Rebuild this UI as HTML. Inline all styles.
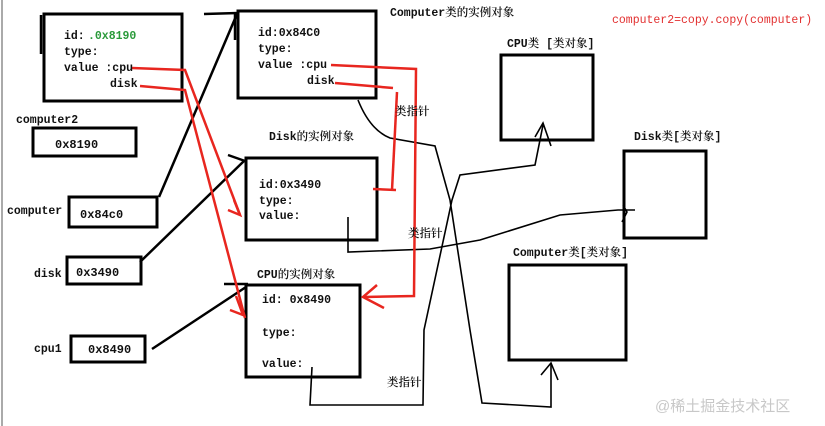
<!DOCTYPE html>
<html><head><meta charset="utf-8"><style>
body{margin:0;background:#fff;}
svg{display:block}
text{font-family:"Liberation Mono","Noto Serif CJK SC",monospace;font-size:11.5px;fill:#111;font-weight:600}
</style></head><body>
<svg width="825" height="426" viewBox="0 0 825 426" xmlns="http://www.w3.org/2000/svg">
<line x1="2" y1="0" x2="2" y2="426" stroke="#aaa" stroke-width="2"/>
<g fill="none" stroke="#000" stroke-width="3">
<rect x="44" y="14" width="138" height="87"/>
<rect x="238" y="11" width="138" height="87"/>
<rect x="33" y="128" width="103" height="28"/>
<rect x="69" y="197" width="88" height="30"/>
<rect x="67" y="257" width="74" height="27"/>
<rect x="71" y="336" width="74" height="26"/>
<rect x="246" y="158" width="131" height="82"/>
<rect x="246" y="285" width="114" height="92"/>
<rect x="501" y="55" width="92" height="85"/>
<rect x="624" y="151" width="82" height="87"/>
<rect x="509" y="265" width="117" height="95"/>
</g>
<g fill="none" stroke="#000" stroke-width="2.5">
<line x1="41" y1="15" x2="41" y2="54"/>
<line x1="204" y1="14" x2="238" y2="13"/>
<line x1="159" y1="197" x2="237" y2="14"/>
<line x1="235" y1="14" x2="235" y2="40"/>
<line x1="140" y1="262" x2="244" y2="161"/>
<line x1="228" y1="155" x2="245" y2="161"/>
<line x1="152" y1="349" x2="246" y2="287"/>
<line x1="224" y1="284" x2="248" y2="284"/>
</g>
<g fill="none" stroke="#000" stroke-width="1.6">
<path d="M358 100 Q370 130 390 138 L435 146 L450 200 L470 330 L482 403 L551 407 L551 363"/>
<path d="M541 375 L551 363 L558 380"/>
<path d="M348 217 L348 252 L430 249 L480 240 L560 215 L618 210 L635 210"/>
<path d="M623 205 L627 212 L622 222"/>
<path d="M312 367 L310 405 L423 405 L424 330 L452 200 L460 175 L535 165 L543 125"/>
<path d="M535 137 L543 123 L551 146"/>
</g>
<g fill="none" stroke="#e8261f" stroke-width="2.5">
<path d="M132 68 L185 70 L240 215"/>
<path d="M228 210 L240 215 L234 200"/>
<path d="M140 86 L185 90 L245 318"/>
<path d="M230 310 L243 315 L236 296"/>
<path d="M331 65 L416 69 L414 296 L364 297"/>
<path d="M377 285 L363 297 L384 308"/>
<path d="M335 83 L393 88"/>
<path d="M397 92 L392 190"/>
<path d="M373 189 L396 190"/>
</g>
<text x="64" y="39">id:</text><text x="88" y="39" style="fill:#2a9a3a">.0x8190</text>
<text x="64" y="55">type:</text>
<text x="64" y="71">value :cpu</text>
<text x="110" y="87">disk</text>
<text x="258" y="36">id:0x84C0</text>
<text x="258" y="52">type:</text>
<text x="258" y="68">value :cpu</text>
<text x="307" y="84">disk</text>
<text x="390" y="16">Computer类的实例对象</text>
<text x="612" y="23" style="fill:#e23030;font-weight:normal">computer2=copy.copy(computer)</text>
<text x="16" y="123">computer2</text>
<text x="55" y="148" style="font-size:12px">0x8190</text>
<text x="7" y="214">computer</text>
<text x="80" y="218" style="font-size:12px">0x84c0</text>
<text x="34" y="277">disk</text>
<text x="76" y="276" style="font-size:12px">0x3490</text>
<text x="34" y="352">cpu1</text>
<text x="88" y="353" style="font-size:12px">0x8490</text>
<text x="269" y="140">Disk的实例对象</text>
<text x="259" y="188">id:0x3490</text>
<text x="259" y="204">type:</text>
<text x="259" y="219">value:</text>
<text x="257" y="278">CPU的实例对象</text>
<text x="262" y="303">id: 0x8490</text>
<text x="262" y="336">type:</text>
<text x="262" y="367">value:</text>
<text x="507" y="47">CPU类  [类对象]</text>
<text x="634" y="140">Disk类[类对象]</text>
<text x="513" y="256">Computer类[类对象]</text>
<text x="395" y="115">类指针</text>
<text x="408" y="237">类指针</text>
<text x="387" y="386">类指针</text>
<text x="655" y="411" style="font-size:15px;fill:#c8c8c8;font-weight:normal;font-family:'Liberation Sans','Noto Sans CJK SC',sans-serif">@稀土掘金技术社区</text>
</svg>
</body></html>
